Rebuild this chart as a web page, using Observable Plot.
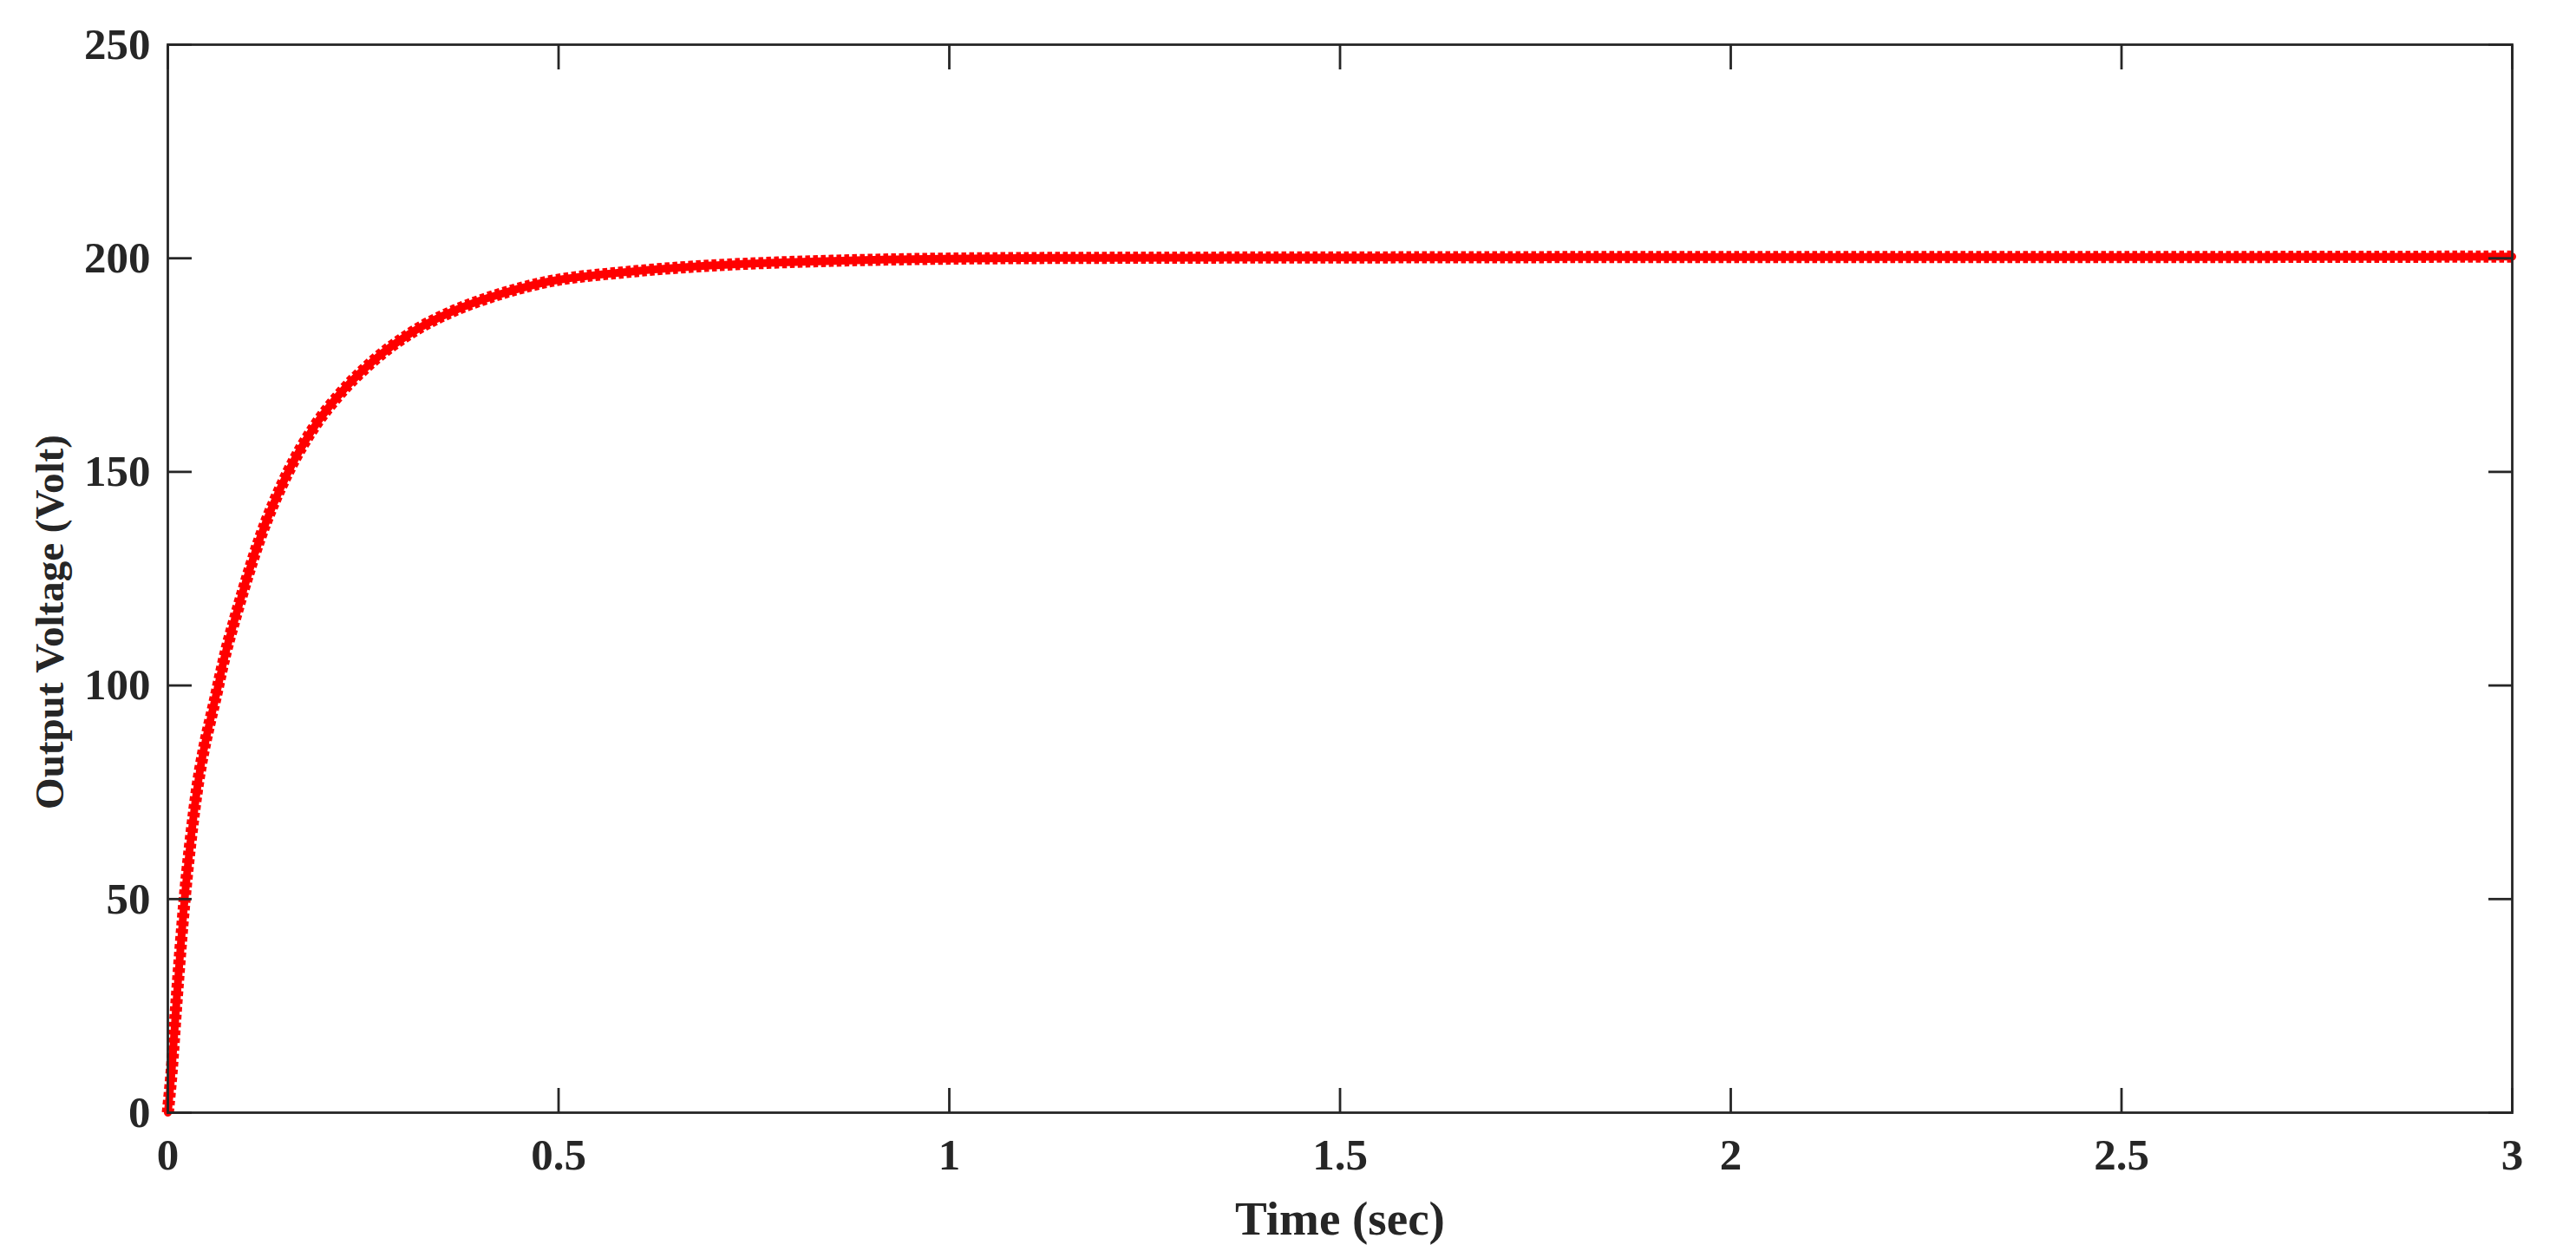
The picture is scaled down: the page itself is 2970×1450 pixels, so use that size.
<!DOCTYPE html>
<html>
<head>
<meta charset="utf-8">
<script src="https://cdn.jsdelivr.net/npm/d3@7"></script>
<script src="https://cdn.jsdelivr.net/npm/@observablehq/plot@0.6"></script>
<style>
html, body { margin: 0; padding: 0; background: #ffffff; }
#chart svg { display: block; }
</style>
</head>
<body>
<div id="chart"></div>
<script>
// Values
const timeSec = [0, 0.0048, 0.0107, 0.0215, 0.0344, 0.0633, 0.0744, 0.0873, 0.0966,
  0.117, 0.154, 0.191, 0.219, 0.263, 0.311, 0.367, 0.411, 0.478, 0.594,
  0.694, 0.793, 0.891, 0.991, 1.173, 1.5, 2.0, 2.5, 3.0];
const voltage = [0, 9.5, 25, 50, 71.6, 99, 108, 116.5, 122.3,
  134, 150, 161.5, 168, 176, 182.5, 187.8, 190.8, 194.2, 196.9,
  198.3, 199.1, 199.6, 199.9, 200.1, 200.2, 200.3, 200.3, 200.4];
const xTicks = [0, 0.5, 1, 1.5, 2, 2.5, 3];
const xTickLabels = ["0", "0.5", "1", "1.5", "2", "2.5", "3"];
const yTicks = [0, 50, 100, 150, 200, 250];
const yTickLabels = ["0", "50", "100", "150", "200", "250"];
const xLabel = "Time (sec)";
const yLabel = "Output Voltage (Volt)";

const data = timeSec.map((t, i) => ({t, v: voltage[i]}));
const font = "'Liberation Serif', 'Times New Roman', Times, serif";
const ink = "#262626";
const red = "#ff0000";
const tick = 28;

const chart = Plot.plot({
  width: 2970,
  height: 1450,
  marginLeft: 193,
  marginRight: 74,
  marginTop: 51,
  marginBottom: 168,
  style: {fontFamily: font, fontWeight: "bold", background: "#ffffff", color: ink, overflow: "visible"},
  x: {domain: [0, 3]},
  y: {domain: [0, 250]},
  marks: [
    Plot.line(data, {x: "t", y: "v", stroke: red, strokeWidth: 9, curve: "monotone-x"}),
    Plot.line(data, {x: "t", y: "v", stroke: red, strokeWidth: 14, strokeDasharray: "5.5,3.5", strokeLinecap: "butt", curve: "monotone-x"}),
    Plot.frame({stroke: ink, strokeWidth: 2.8}),
    // inward ticks on all four sides
    Plot.axisX({ticks: xTicks, anchor: "bottom", tickSize: tick, dy: -tick, tickFormat: () => "", label: null, stroke: ink, strokeWidth: 2.8}),
    Plot.axisX({ticks: xTicks, anchor: "top", tickSize: tick, dy: tick, tickFormat: () => "", label: null, stroke: ink, strokeWidth: 2.8}),
    Plot.axisY({ticks: yTicks, anchor: "left", tickSize: tick, dx: tick, tickFormat: () => "", label: null, stroke: ink, strokeWidth: 2.8}),
    Plot.axisY({ticks: yTicks, anchor: "right", tickSize: tick, dx: -tick, tickFormat: () => "", label: null, stroke: ink, strokeWidth: 2.8}),
    // tick labels
    Plot.axisX({ticks: xTicks, anchor: "bottom", tickSize: 0, tickPadding: 29, fontSize: 51, fill: ink,
      tickFormat: d => xTickLabels[xTicks.indexOf(d)], label: null}),
    Plot.axisY({ticks: yTicks, anchor: "left", tickSize: 0, tickPadding: 20, fontSize: 51, fill: ink,
      tickFormat: d => yTickLabels[yTicks.indexOf(d)], label: null}),
    // axis titles
    Plot.text([xLabel], {text: d => d, frameAnchor: "bottom", textAnchor: "middle", lineAnchor: "top", dy: 101, fontSize: 55, fill: ink, fontWeight: "bold"}),
    Plot.text([yLabel], {text: d => d, frameAnchor: "left", textAnchor: "middle", rotate: -90, lineAnchor: "middle", dx: -136, dy: 50, fontSize: 47, fill: ink, fontWeight: "bold"})
  ]
});
document.getElementById("chart").appendChild(chart);
</script>
</body>
</html>
